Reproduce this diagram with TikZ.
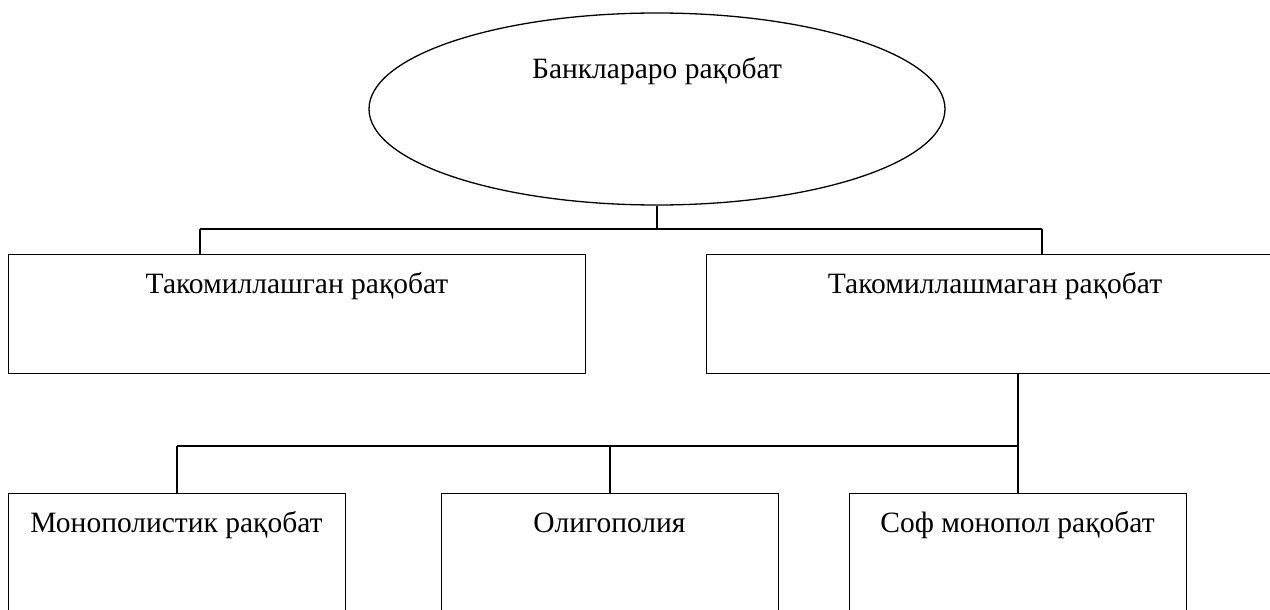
\documentclass[tikz,border=0pt]{standalone}
\usepackage{fontspec}
\setmainfont{Liberation Serif}
\usetikzlibrary{shapes.geometric}
\begin{document}
\begin{tikzpicture}[x=1pt,y=-1pt,
  lw/.style={line width=1.3pt, black},
  boxshape/.style={draw, lw, rectangle, inner sep=0pt, anchor=north west},
  lbl/.style={font=\fontsize{29.5}{32}\selectfont, inner sep=0pt, anchor=base},
  link/.style={lw}]
\useasboundingbox (0,0) rectangle (1270,610);
\clip (0,0) rectangle (1270,610);
\fill[white] (0,0) rectangle (1270,610);
% top ellipse
\node[draw, lw, ellipse, minimum width=576pt, minimum height=192pt, inner sep=0pt] (root) at (657,109) {};
\node[lbl] (rootlbl) at (657,79) {Банклараро рақобат};
% level 1 boxes
\node[boxshape, minimum width=577pt, minimum height=119pt] (b1) at (8,254) {};
\node[lbl] (b1lbl) at (297,293) {Такомиллашган рақобат};
\node[boxshape, minimum width=578pt, minimum height=119pt] (b2) at (706,254) {};
\node[lbl] (b2lbl) at (995,293) {Такомиллашмаган рақобат};
% level 2 boxes
\node[boxshape, minimum width=337pt, minimum height=140pt] (c1) at (8,493) {};
\node[lbl] (c1lbl) at (176.5,532) {Монополистик рақобат};
\node[boxshape, minimum width=337pt, minimum height=140pt] (c2) at (441,493) {};
\node[lbl] (c2lbl) at (609.5,532) {Олигополия};
\node[boxshape, minimum width=337pt, minimum height=140pt] (c3) at (849,493) {};
\node[lbl] (c3lbl) at (1017.5,532) {Соф монопол рақобат};
% connectors level 1
\coordinate (j1) at (657,229);
\coordinate (j1l) at (200,229);
\coordinate (j1r) at (1042,229);
\draw[link] (root.south) -- (j1);
\draw[link] (j1l) -- (j1r);
\draw[link] (j1l) -- (j1l |- b1.north);
\draw[link] (j1r) -- (j1r |- b2.north);
% connectors level 2
\coordinate (j2) at (1018,446);
\coordinate (j2l) at (177,446);
\coordinate (j2m) at (610,446);
\draw[link] (j2 |- b2.south) -- (j2);
\draw[link] (j2l) -- (j2);
\draw[link] (j2l) -- (j2l |- c1.north);
\draw[link] (j2m) -- (j2m |- c2.north);
\draw[link] (j2) -- (j2 |- c3.north);
\end{tikzpicture}
\end{document}
